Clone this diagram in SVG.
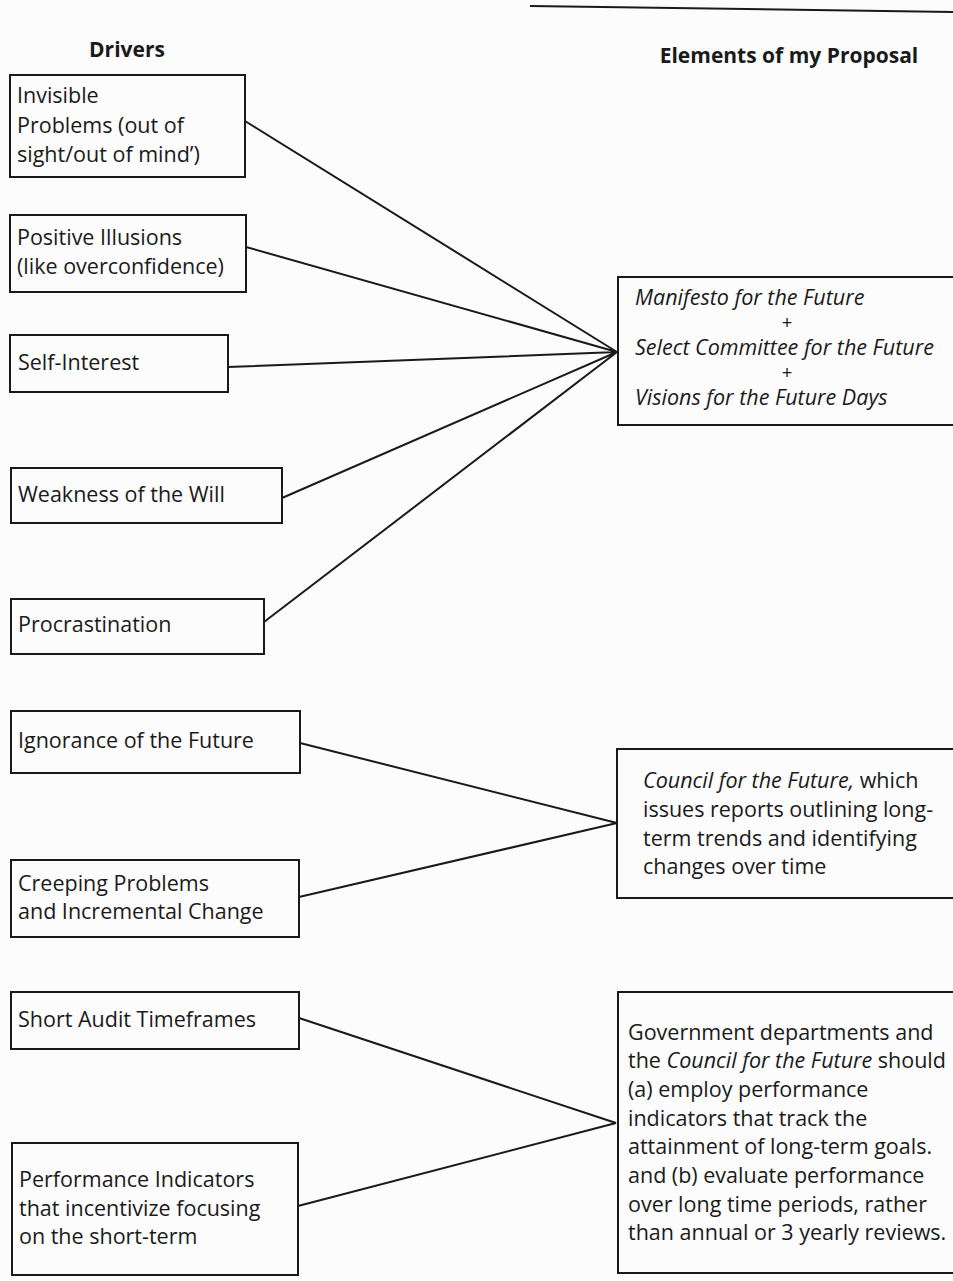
<svg xmlns="http://www.w3.org/2000/svg" width="953" height="1281" viewBox="0 0 953 1281">
<style>
.box{fill:none;stroke:#1a1a1a;stroke-width:2}
.t{font-family:"Open Sans","Noto Sans",sans-serif;font-size:21.5px;fill:#1a1a1a}
.p{font-family:"Liberation Sans",Arial,sans-serif;font-size:18px;fill:#1a1a1a}
.h{font-family:"Open Sans","Noto Sans",sans-serif;font-size:21px;font-weight:bold;fill:#1a1a1a}
.i{font-style:italic}
.c{fill:none;stroke:#1a1a1a;stroke-width:2}
</style>
<rect width="953" height="1281" fill="#fcfcfc"/>
<line x1="530" y1="6" x2="953" y2="12" stroke="#1a1a1a" stroke-width="2"/>
<g id="headers">
<text class="h" x="127" y="57" text-anchor="middle">Drivers</text>
<text class="h" x="789" y="63" text-anchor="middle">Elements of my Proposal</text>
</g>
<g id="connectors">
<path class="c" d="M245,121 L617,352 M246,247 L617,352 M228,367 L617,352 M282,498 L617,352 M264,622 L617,352"/>
<path class="c" d="M300,743 L617,823 M299,897 L617,823"/>
<path class="c" d="M299,1018 L616,1123 M298,1206 L616,1123"/>
</g>
<g id="invisible">
<rect class="box" x="10" y="75" width="235" height="102"/>
<text class="t" x="17" y="103">Invisible</text>
<text class="t" x="17" y="133">Problems (out of</text>
<text class="t" x="17" y="162">sight/out of mind’)</text>
</g>
<g id="positive">
<rect class="box" x="10" y="215" width="236" height="77"/>
<text class="t" x="17" y="245">Positive Illusions</text>
<text class="t" x="17" y="274">(like overconfidence)</text>
</g>
<g id="selfinterest">
<rect class="box" x="10" y="335" width="218" height="57"/>
<text class="t" x="18" y="370">Self-Interest</text>
</g>
<g id="weakness">
<rect class="box" x="11" y="468" width="271" height="55"/>
<text class="t" x="18" y="502">Weakness of the Will</text>
</g>
<g id="procrastination">
<rect class="box" x="11" y="599" width="253" height="55"/>
<text class="t" x="18" y="632">Procrastination</text>
</g>
<g id="ignorance">
<rect class="box" x="11" y="711" width="289" height="62"/>
<text class="t" x="18" y="748">Ignorance of the Future</text>
</g>
<g id="creeping">
<rect class="box" x="11" y="860" width="288" height="77"/>
<text class="t" x="18" y="891">Creeping Problems</text>
<text class="t" x="18" y="919">and Incremental Change</text>
</g>
<g id="shortaudit">
<rect class="box" x="11" y="992" width="288" height="57"/>
<text class="t" x="18" y="1027">Short Audit Timeframes</text>
</g>
<g id="performance">
<rect class="box" x="12" y="1143" width="286" height="132"/>
<text class="t" x="19" y="1187">Performance Indicators</text>
<text class="t" x="19" y="1216">that incentivize focusing</text>
<text class="t" x="19" y="1244">on the short-term</text>
</g>
<g id="manifesto">
<rect class="box" x="618" y="277" width="345" height="148"/>
<text class="t i" x="635" y="305">Manifesto for the Future</text>
<text class="p" x="787" y="329" text-anchor="middle">+</text>
<text class="t i" x="635" y="355">Select Committee for the Future</text>
<text class="p" x="787" y="379" text-anchor="middle">+</text>
<text class="t i" x="635" y="405">Visions for the Future Days</text>
</g>
<g id="council">
<rect class="box" x="617" y="749" width="346" height="149"/>
<text class="t" x="643" y="788"><tspan class="i">Council for the Future,</tspan> which</text>
<text class="t" x="643" y="817">issues reports outlining long-</text>
<text class="t" x="643" y="846">term trends and identifying</text>
<text class="t" x="643" y="874">changes over time</text>
</g>
<g id="government">
<rect class="box" x="618" y="992" width="345" height="281"/>
<text class="t" x="628" y="1040">Government departments and</text>
<text class="t" x="628" y="1068">the <tspan class="i">Council for the Future</tspan> should</text>
<text class="t" x="628" y="1097">(a) employ performance</text>
<text class="t" x="628" y="1126">indicators that track the</text>
<text class="t" x="628" y="1154">attainment of long-term goals.</text>
<text class="t" x="628" y="1183">and (b) evaluate performance</text>
<text class="t" x="628" y="1212">over long time periods, rather</text>
<text class="t" x="628" y="1240">than annual or 3 yearly reviews.</text>
</g>
</svg>
